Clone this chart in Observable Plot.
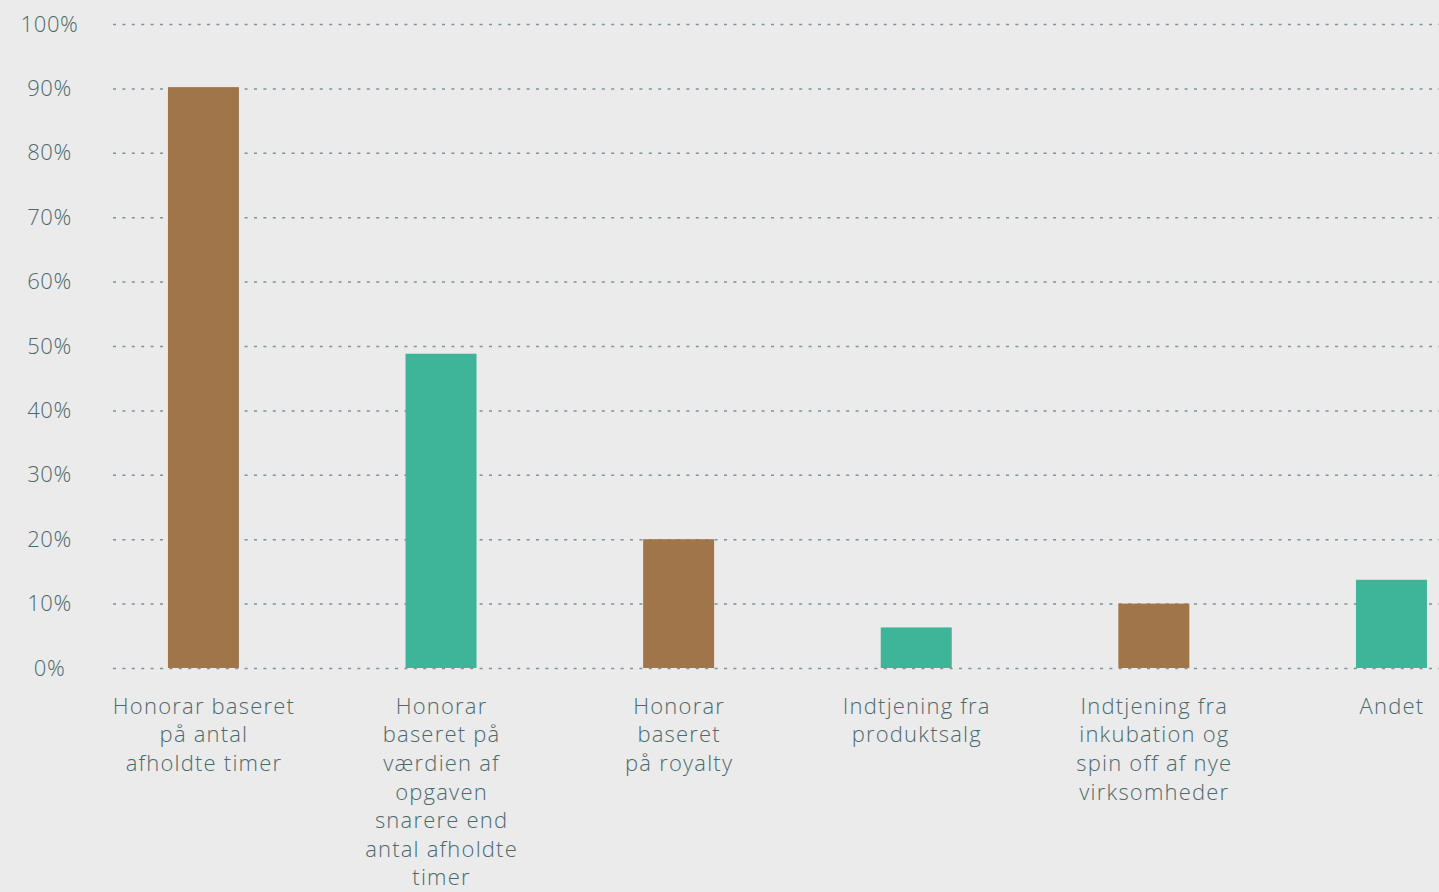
<!DOCTYPE html>
<html>
<head>
<meta charset="utf-8">
<script src="https://cdn.jsdelivr.net/npm/d3@7"></script>
<script src="https://cdn.jsdelivr.net/npm/@observablehq/plot@0.6"></script>
<style>
  html, body { margin: 0; padding: 0; background: #ebebeb; }
  #chart { width: 1439px; height: 892px; overflow: hidden; }
  #chart text { letter-spacing: 0.6px; }
  #chart g.xlabels text { letter-spacing: 1.2px; }
</style>
</head>
<body>
<div id="chart"></div>
<script>
const categories = ["hon_timer", "hon_vaerdi", "hon_royalty", "produktsalg", "inkubation", "andet"];
const labels = [
  "Honorar baseret\npå antal\nafholdte timer",
  "Honorar\nbaseret på\nværdien af\nopgaven\nsnarere end\nantal afholdte\ntimer",
  "Honorar\nbaseret\npå royalty",
  "Indtjening fra\nproduktsalg",
  "Indtjening fra\ninkubation og\nspin off af nye\nvirksomheder",
  "Andet"
];
const values = [90.2, 48.8, 20.0, 6.3, 10.0, 13.7];
const yTicks = [0, 10, 20, 30, 40, 50, 60, 70, 80, 90, 100];

const data = categories.map((c, i) => ({cat: c, label: labels[i], value: values[i], idx: i}));

const brown = "#a1754a";
const teal = "#3eb498";
const textColor = "#4b6a6d";
const gridColor = "#7f9294";

const chart = Plot.plot({
  width: 1439,
  height: 892,
  marginLeft: 113,
  marginRight: 0,
  marginTop: 24,
  marginBottom: 224,
  style: {background: "#ebebeb", fontFamily: "'Open Sans', Lato, sans-serif", color: textColor},
  x: {domain: categories, paddingInner: 0.7012, paddingOuter: 0.141, align: 0.82, round: false, axis: null},
  y: {domain: [0, 100], axis: null},
  marks: [
    Plot.ruleY(yTicks.filter(d => d > 0), {stroke: gridColor, strokeWidth: 1.5, strokeDasharray: "3,6.4"}),
    Plot.barY(data, {x: "cat", y: "value", fill: d => d.idx % 2 ? teal : brown}),
    Plot.ruleY([0], {stroke: gridColor, strokeWidth: 1.5, strokeDasharray: "3,6.4"}),
    Plot.axisY({ticks: yTicks, label: null, tickSize: 0, tickPadding: 64, textAnchor: "middle", tickFormat: d => d + "%", fontSize: 22, fontWeight: 300, fill: textColor}),
    Plot.text(data, {x: "cat", y: () => 0, text: "label", lineAnchor: "top", dy: 25, fontSize: 22, fontWeight: 300, lineHeight: 1.3, fill: textColor, className: "xlabels"})
  ]
});
document.getElementById("chart").appendChild(chart);
</script>
</body>
</html>
